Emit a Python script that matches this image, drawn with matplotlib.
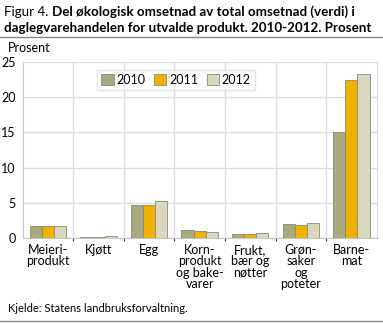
import numpy as np
import matplotlib.pyplot as plt

categories = ["Meieri-\nprodukt", "Kjøtt", "Egg", "Korn-\nprodukt\nog bake-\nvarer",
              "Frukt,\nbær og\nnøtter", "Grøn-\nsaker\nog\npoteter", "Barne-\nmat"]
years = ["2010", "2011", "2012"]
v2010 = [1.7, 0.15, 4.7, 1.15, 0.6, 2.0, 15.05]
v2011 = [1.7, 0.15, 4.7, 1.0, 0.6, 1.85, 22.35]
v2012 = [1.7, 0.3, 5.3, 0.9, 0.75, 2.15, 23.25]
colors = ["#a9a97d", "#f0b000", "#d9d7bd"]

plt.rcParams['font.family'] = ['Lato', 'DejaVu Sans']

W, H = 383, 323
fig = plt.figure(figsize=(W / 100, H / 100), dpi=100)

ax = fig.add_axes([22.7 / W, (H - 238.3) / H, 354 / W, 176.6 / H])
x = np.arange(len(categories))
bw = 0.24
for i, (vals, yr) in enumerate(zip([v2010, v2011, v2012], years)):
    ax.bar(x + (i - 1) * bw, vals, bw, color=colors[i], edgecolor="#8a8a78",
           linewidth=0.6, label=yr, zorder=3)

ax.set_xlim(-0.5, len(categories) - 0.5)
ax.set_ylim(0, 25)
ax.set_yticks(range(0, 26, 5))
ax.set_xticks(x)
ax.set_xticklabels(categories, fontsize=9, linespacing=0.95)
ax.set_xticks(np.arange(0.5, len(categories) - 0.5, 1), minor=True)
ax.tick_params(axis='both', length=0, labelsize=9)
ax.tick_params(axis='x', pad=4)
ax.tick_params(axis='y', pad=5)
ax.grid(axis='y', color="#dcdcdc", linewidth=1, zorder=0)
ax.grid(axis='x', which='minor', color="#dcdcdc", linewidth=1, zorder=0)
for s in ['top', 'right']:
    ax.spines[s].set_color("#dcdcdc")
ax.spines['left'].set_color("#c8c8c8")
ax.spines['bottom'].set_color("#c8c8c8")

leg = ax.legend(loc='upper center', bbox_to_anchor=(0.433, 0.99), ncol=3, fontsize=9,
                frameon=True, fancybox=False, handlelength=1.0, handleheight=1.0,
                handletextpad=0.2, columnspacing=0.7, borderpad=0.35)
leg.get_frame().set_edgecolor("#dcdcdc")
leg.get_frame().set_linewidth(1)

fig.text(8 / W, 1 - 48 / H, "Prosent", fontsize=9, va='center')

# title: normal "Figur 4." then bold rest
fig.canvas.draw()
r = fig.canvas.get_renderer()
t1 = fig.text(4 / W, 1 - 12 / H, "Figur 4. ", fontsize=9.6, va='center')
bb = t1.get_window_extent(renderer=r)
fig.text(bb.x1 / W, 1 - 12 / H, "Del økologisk omsetnad av total omsetnad (verdi) i",
         fontsize=9.6, fontweight='bold', va='center')
fig.text(4 / W, 1 - 28 / H, "daglegvarehandelen for utvalde produkt. 2010-2012. Prosent",
         fontsize=9.6, fontweight='bold', va='center')
fig.add_artist(plt.Line2D([0, 1], [1 - 37 / H, 1 - 37 / H], color="#888888", linewidth=1))
fig.add_artist(plt.Line2D([0, 1], [1 - 321 / H, 1 - 321 / H], color="#888888", linewidth=1))

fig.text(8 / W, 1 - 308 / H, "Kjelde: Statens landbruksforvaltning.", fontsize=8, va='center')

fig.savefig("out.png", dpi=100)
